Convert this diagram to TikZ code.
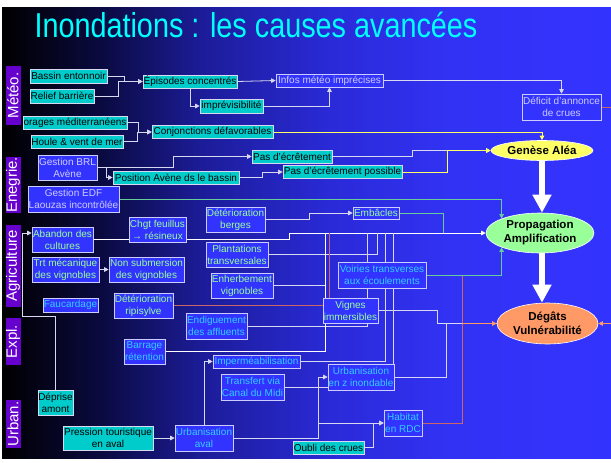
\documentclass[tikz,border=0pt]{standalone}
\usepackage{fontspec}
\setmainfont{Liberation Sans}
\usepackage{graphicx}
\usetikzlibrary{arrows.meta,shapes.geometric}
\definecolor{fondbleu}{HTML}{3333FF}
\definecolor{fd1}{HTML}{0A0A40}
\definecolor{fd2}{HTML}{1C1C98}
\definecolor{fd3}{HTML}{2A2AD8}
\definecolor{fd4}{HTML}{3232F4}
\definecolor{turq}{HTML}{00CCCC}
\definecolor{titrec}{HTML}{00FFFF}
\definecolor{lavande}{HTML}{CCCCFF}
\definecolor{vertclair}{HTML}{99FF99}
\definecolor{ciel}{HTML}{33CCFF}
\definecolor{violet}{HTML}{6600CC}
\definecolor{jaune}{HTML}{FFFF66}
\definecolor{saumon}{HTML}{FF9966}
\definecolor{rose}{HTML}{CC6666}
\definecolor{vertfil}{HTML}{66CC99}
\definecolor{gris}{HTML}{D8D8F0}
\pgfdeclarelayer{fond}
\pgfdeclarelayer{fils}
\pgfsetlayers{fond,fils,main}
\tikzset{
  boite/.style={draw=gris,line width=0.6pt,inner sep=0pt,align=center,
                font=\fontsize{10}{12}\selectfont},
  cb/.style={boite,fill=turq,text=black},
  bb/.style={boite,fill=fondbleu,draw=lavande},
  tl/.style={text=lavande},
  tv/.style={text=vertclair},
  tc/.style={text=ciel},
  secteur/.style={rotate=90,fill=violet,text=white,inner sep=0pt,minimum height=15pt,
                  font=\fontsize{15}{15}\selectfont},
  bulle/.style={ellipse,draw=white,line width=0.6pt,inner sep=0pt,align=center,
                font=\fontsize{11.5}{14}\selectfont\bfseries},
  fl/.style={-{Triangle[length=4.5pt,width=4.5pt]}},
  fil/.style={draw=gris,line width=0.8pt},
  blanc/.style={draw=white,line width=1pt},
  jfil/.style={draw=jaune,line width=0.8pt},
  vfil/.style={draw=vertfil,line width=0.8pt},
  rfil/.style={draw=rose,line width=0.8pt},
  ofil/.style={draw=saumon,line width=1pt},
  grosse/.style={white,line width=6pt,-{Triangle[length=18pt,width=18pt]}},
}

\begin{document}
\begin{tikzpicture}[x=1pt,y=-1pt]
  \useasboundingbox (0,0) rectangle (611,463);
  \begin{pgfonlayer}{fond}
    \shade[left color=black,right color=fd1] (2,7) rectangle (101,458);
    \shade[left color=fd1,right color=fd2] (100.5,7) rectangle (201,458);
    \shade[left color=fd2,right color=fd3] (200.5,7) rectangle (331,458);
    \shade[left color=fd3,right color=fd4] (330.5,7) rectangle (451,458);
    \shade[left color=fd4,right color=fondbleu] (450.5,7) rectangle (611,458);
  \end{pgfonlayer}

  \node[anchor=base,text=titrec,font=\fontsize{28.8}{30}\selectfont] (titre) at (256,37)
    {\scalebox{1}[1.2]{Inondations : les causes avancées}};

  % secteurs
  \node[secteur,minimum width=59pt] (meteo) at (13,95.5) {Météo.};
  \node[secteur,minimum width=56pt] (energie) at (13,185) {Enegrie.};
  \node[secteur,minimum width=82pt] (agri) at (13,266) {Agriculture};
  \node[secteur,minimum width=47pt] (expl) at (13,341.5) {Expl.};
  \node[secteur,minimum width=48pt] (urban) at (13,424) {Urban.};

  % meteo
  \node[cb,minimum width=77pt,minimum height=14pt] (bassin) at (68.5,76) {Bassin entonnoir};
  \node[cb,minimum width=64pt,minimum height=14pt] (relief) at (62,96) {Relief barrière};
  \node[cb,minimum width=94pt,minimum height=13pt] (episodes) at (190,81.5) {Épisodes concentrés};
  \node[cb,minimum width=63pt,minimum height=14pt] (imprev) at (231.5,106) {imprévisibilité};
  \node[bb,tl,minimum width=107pt,minimum height=13pt] (infos) at (329.5,80.5) {Infos météo imprécises};
  \node[bb,tl,minimum width=79pt,minimum height=26pt] (deficit) at (561.5,107) {Déficit d'annonce\\de crues};
  \node[cb,minimum width=104pt,minimum height=13pt] (orages) at (75,122.5) {orages méditerranéens};
  \node[cb,minimum width=92pt,minimum height=13pt] (houle) at (77,141.5) {Houle \& vent de mer};
  \node[cb,minimum width=121pt,minimum height=13pt] (conj) at (212.5,132) {Conjonctions défavorables};

  % energie
  \node[bb,tl,minimum width=59pt,minimum height=25pt] (brl) at (67.5,167.5) {Gestion BRL\\Avène};
  \node[cb,minimum width=80pt,minimum height=13pt] (pasecr) at (292,156.5) {Pas d'écrêtement};
  \node[cb,minimum width=126pt,minimum height=13pt] (position) at (176,177.5) {Position Avène ds le bassin};
  \node[cb,minimum width=119pt,minimum height=13pt] (pasposs) at (342.5,172) {Pas d'écrêtement possible};
  \node[bb,tl,minimum width=91pt,minimum height=26pt] (edf) at (73.5,199) {Gestion EDF\\Laouzas incontrôlée};

  % agriculture
  \node[bb,tv,minimum width=61pt,minimum height=25pt] (abandon) at (62.5,239.5) {Abandon des\\cultures};
  \node[bb,tv,minimum width=57pt,minimum height=25pt] (chgt) at (157.5,229.5) {Chgt feuillus\\→ résineux};
  \node[bb,tv,minimum width=59pt,minimum height=25pt] (berges) at (235.5,219.5) {Détérioration\\berges};
  \node[bb,tv,minimum width=67pt,minimum height=25pt] (trt) at (65.5,269.5) {Trt mécanique\\des vignobles};
  \node[bb,tv,minimum width=75pt,minimum height=25pt] (nonsub) at (146.5,269.5) {Non submersion\\des vignobles};
  \node[bb,tv,minimum width=62pt,minimum height=25pt] (plant) at (237,254.5) {Plantations\\transversales};
  \node[bb,tv,minimum width=62pt,minimum height=25pt] (enherb) at (242,285.5) {Enherbement\\vignobles};
  \node[bb,tc,minimum width=55pt,minimum height=14pt] (fauc) at (70.5,305) {Faucardage};
  \node[bb,tv,minimum width=59pt,minimum height=25pt] (ripi) at (143.5,305.5) {Détérioration\\ripisylve};
  \node[bb,tv,minimum width=46pt,minimum height=12pt] (embacles) at (376,213) {Embâcles};
  \node[bb,tc,minimum width=88pt,minimum height=26pt] (voiries) at (382,275) {Voiries transverses\\aux écoulements};
  \node[bb,tv,minimum width=55pt,minimum height=25pt] (vignes) at (350.5,310.5) {Vignes\\immersibles};

  % exploitation, urbanisation
  \node[bb,tc,minimum width=61pt,minimum height=26pt] (endig) at (216.5,326) {Endiguement\\des affluents};
  \node[bb,tc,minimum width=41pt,minimum height=25pt] (barrage) at (144.5,351.5) {Barrage\\rétention};
  \node[bb,tc,minimum width=87pt,minimum height=13pt] (imperm) at (256.5,361.5) {Imperméabilisation};
  \node[bb,tc,minimum width=63pt,minimum height=26pt] (transfert) at (252.5,387) {Transfert via\\Canal du Midi};
  \node[bb,tc,minimum width=66pt,minimum height=26pt] (urbz) at (361,377) {Urbanisation\\en z inondable};
  \node[cb,minimum width=35pt,minimum height=25pt] (deprise) at (55.5,402.5) {Déprise\\amont};
  \node[cb,minimum width=90pt,minimum height=24pt] (pression) at (108,438) {Pression touristique\\en aval};
  \node[bb,tc,minimum width=58pt,minimum height=26pt] (urbaval) at (204,438) {Urbanisation\\aval};
  \node[bb,tc,minimum width=38pt,minimum height=26pt] (habitat) at (403,423) {Habitat\\en RDC};
  \node[cb,minimum width=71pt,minimum height=13pt] (oubli) at (328.5,447.5) {Oubli des crues};

  % consequences
  \node[bulle,fill=jaune,minimum width=102pt,minimum height=20pt] (genese) at (542,150.5) {Genèse Aléa};
  \node[bulle,fill=vertclair,minimum width=108pt,minimum height=40pt] (propag) at (540,233) {Propagation\\Amplification};
  \node[bulle,fill=saumon,minimum width=101pt,minimum height=41pt] (degats) at (547.5,323.5) {Dégâts\\Vulnérabilité};
  \draw[grosse] (genese.south) -- (genese.south |- propag.north);
  \draw[grosse] (genese.south |- propag.south) -- (genese.south |- degats.north);

  % raccords sur le tronc vers propagation et degats
  \coordinate (jb) at (325,233);
  \coordinate (jr) at (329,233);
  \coordinate (je) at (367,233);
  \coordinate (jp) at (377,233);
  \coordinate (ji) at (385,233);
  \coordinate (ju) at (393,233);
  \coordinate (jm) at (443,233);
  \coordinate (jd) at (462,323.5);
  \coordinate (jdr) at (625,323.5);

  \begin{pgfonlayer}{fils}
    \draw[fil,fl] (bassin.east) -- ++(17,0) |- (episodes.west);
    \draw[fil,fl] (relief.east) -- ++(24,0) |- (episodes.west);
    \draw[fil,fl] (episodes.east) -- (infos.west);
    \draw[fil,fl] (episodes.south) |- (imprev.west);
    \draw[fil,fl] (imprev.east) -| (infos.south);
    \draw[fil,fl] (infos.east) -| (deficit.north);
    \draw[rfil] (deficit.east) -| (jdr);
    \draw[ofil,fl] (jdr) -- (degats.east);
    \draw[fil,fl] (orages.east) -- ++(11,0) |- (conj.west);
    \draw[fil,fl] (houle.east) -- ++(14,0) |- (conj.west);
    \draw[jfil,fl] (conj.east) -| (genese.north);

    \draw[fil,fl] (brl.east) -- ++(9.5,0) |- (position.west);
    \draw[fil,fl] (brl.east) -- ++(76,0) |- (pasecr.west);
    \draw[fil,fl] (position.east) -- ++(23,0) |- (pasposs.west);
    \draw[fil,fl] (pasecr.east) -- ++(80,0) |- (genese.west);
    \draw[jfil,fl] (pasposs.east) -- ++(45,0) |- (genese.west);
    \draw[vfil,fl] (edf.east) -| (propag.north west);

    \draw[fil,fl] (deprise.north) -- ++(0,-73) -- ++(-33.5,0) |- ([yshift=6.5pt]abandon.west);
    \draw[blanc,fl] (abandon.east) -- ++(196,0) |- (propag.west);
    \draw[fil,fl] (trt.east) -- (nonsub.west);
    \draw[fil,fl] (berges.east) -- ++(44,0) |- (embacles.west);
    \draw[vfil] (embacles.east) -| (jm);
    \draw[fil] (plant.east) -| (jp);
    \draw[fil] (enherb.east) -| (jb);
    \draw[rfil] (ripi.east) -| (jr);
    \draw[fil] (endig.east) -| (je);
    \draw[blanc] (barrage.east) -| (jb);
    \draw[fil] (imperm.east) -| (ji);
    \draw[fil] (urbz.north east) -| (ju);

    \draw[fil,fl] (pression.east) -- (urbaval.west);
    \draw[fil,fl] (urbaval.north) |- (imperm.west);
    \draw[fil,fl] (urbaval.east) -- ++(85,0) |- (urbz.west);
    \draw[fil,fl] (urbaval.east) -- ++(85,0) |- (habitat.west);
    \draw[fil,fl] (oubli.east) -- ++(9,0) |- (habitat.west);
    \draw[fil] (transfert.east) -- (transfert.east -| urbz.west);

    \draw[fil] (vignes.east) -- ++(59,0) |- (degats.west);
    \draw[fil] (urbz.east) -- ++(52,0) |- (degats.west);
    \draw[rfil] (voiries.east) -| (jd);
    \draw[rfil] (habitat.east) -| (jd);
    \draw[vfil,fl] (voiries.east) -| (propag.south west);
    \draw[ofil,fl] (jd) -- (degats.west);
  \end{pgfonlayer}
\end{tikzpicture}
\end{document}
